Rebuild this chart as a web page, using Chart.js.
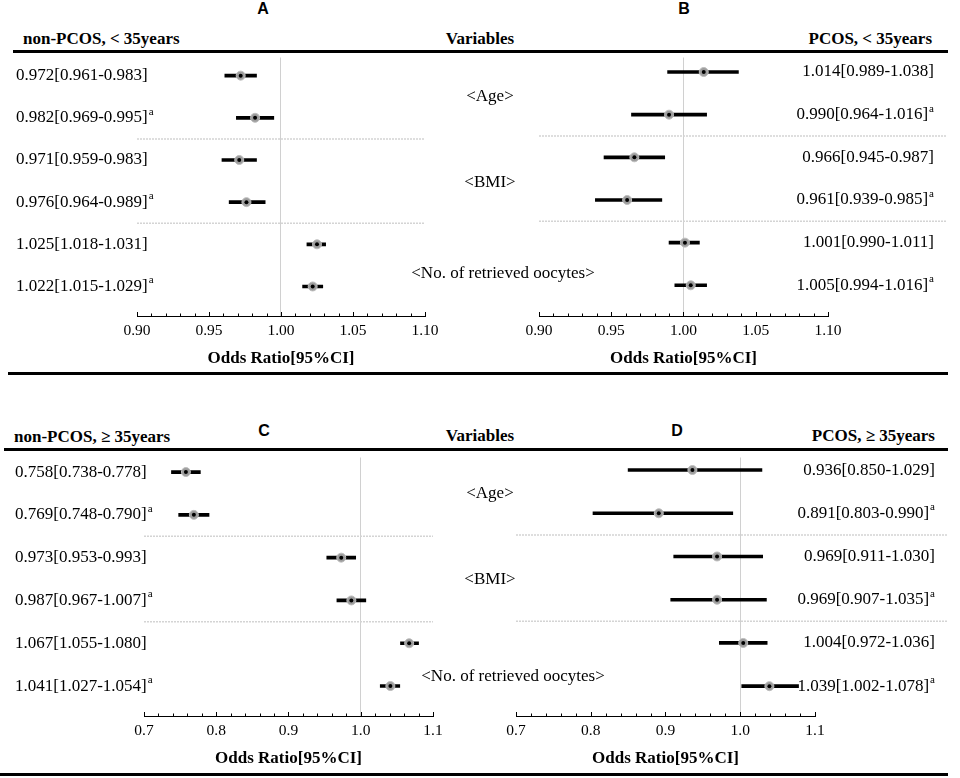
<!DOCTYPE html>
<html>
<head>
<meta charset="utf-8">
<script src="https://cdn.jsdelivr.net/npm/chart.js@4.4.1/dist/chart.umd.min.js"></script>
<style>
  body { margin: 0; background: #fff; }
  #wrap { position: relative; width: 960px; height: 778px; overflow: hidden; font-family: 'Liberation Serif', 'Times New Roman', serif; color: #000; }
  .pane { position: absolute; width: 480px; height: 320px; }
  .txt { position: absolute; font-size: 17px; white-space: nowrap; line-height: 20px; }
  .b { font-weight: bold; }
  .ctr { transform: translateX(-50%); }
  .rt { transform: translateX(-100%); }
  .letter { position: absolute; font-family: 'Liberation Sans', Arial, sans-serif; font-weight: bold; font-size: 16px; transform: translateX(-50%); line-height: 20px; }
  .rule { position: absolute; height: 3px; background: #000; }
</style>
</head>
<body>
<div id="wrap">
  <div class="letter" style="left:263px; top:-1px;">A</div>
  <div class="letter" style="left:684px; top:-1px;">B</div>
  <div class="txt b" style="left:23px; top:29px;">non-PCOS, &lt; 35years</div>
  <div class="txt b ctr" style="left:480px; top:29px;">Variables</div>
  <div class="txt b rt" style="left:932px; top:29px;">PCOS, &lt; 35years</div>
  <div class="rule" style="left:13px; width:935px; top:50px;"></div>

  <div class="pane" style="left:0; top:52px;"><canvas id="cA"></canvas></div>
  <div class="pane" style="left:480px; top:52px;"><canvas id="cB"></canvas></div>

  <div class="txt ctr" style="left:490px; top:86px;">&lt;Age&gt;</div>
  <div class="txt ctr" style="left:490px; top:172px;">&lt;BMI&gt;</div>
  <div class="txt ctr" style="left:503px; top:263px;">&lt;No. of retrieved oocytes&gt;</div>
  <div class="rule" style="left:8px; width:940px; top:372px;"></div>

  <div class="letter" style="left:264px; top:421px;">C</div>
  <div class="letter" style="left:677px; top:421px;">D</div>
  <div class="txt b" style="left:14px; top:427px;">non-PCOS, &ge; 35years</div>
  <div class="txt b ctr" style="left:480px; top:426px;">Variables</div>
  <div class="txt b rt" style="left:935px; top:426px;">PCOS, &ge; 35years</div>
  <div class="rule" style="left:4px; width:944px; top:448px;"></div>

  <div class="pane" style="left:0; top:452px;"><canvas id="cC"></canvas></div>
  <div class="pane" style="left:480px; top:452px;"><canvas id="cD"></canvas></div>

  <div class="txt ctr" style="left:490px; top:483px;">&lt;Age&gt;</div>
  <div class="txt ctr" style="left:490px; top:569px;">&lt;BMI&gt;</div>
  <div class="txt ctr" style="left:513px; top:666px;">&lt;No. of retrieved oocytes&gt;</div>
  <div class="rule" style="left:0; width:948px; top:773px;"></div>
</div>
<script>
// odds ratios with 95% CI, rows: Age, Age(adj), BMI, BMI(adj), oocytes, oocytes(adj)
const adjusted = [false, true, false, true, false, true];

const orA = [0.972, 0.982, 0.971, 0.976, 1.025, 1.022];
const loA = [0.961, 0.969, 0.959, 0.964, 1.018, 1.015];
const hiA = [0.983, 0.995, 0.983, 0.989, 1.031, 1.029];

const orB = [1.014, 0.990, 0.966, 0.961, 1.001, 1.005];
const loB = [0.989, 0.964, 0.945, 0.939, 0.990, 0.994];
const hiB = [1.038, 1.016, 0.987, 0.985, 1.011, 1.016];

const orC = [0.758, 0.769, 0.973, 0.987, 1.067, 1.041];
const loC = [0.738, 0.748, 0.953, 0.967, 1.055, 1.027];
const hiC = [0.778, 0.790, 0.993, 1.007, 1.080, 1.054];

const orD = [0.936, 0.891, 0.969, 0.969, 1.004, 1.039];
const loD = [0.850, 0.803, 0.911, 0.907, 0.972, 1.002];
const hiD = [1.029, 0.990, 1.030, 1.035, 1.036, 1.078];

const ticksAB = [0.90, 0.95, 1.00, 1.05, 1.10];
const ticksCD = [0.7, 0.8, 0.9, 1.0, 1.1];

const SERIF = "'Liberation Serif', 'Times New Roman', serif";
Chart.defaults.font.family = SERIF;
Chart.defaults.font.size = 15.5;
Chart.defaults.color = '#000';

// small upward tick marks on the x axis
const axisTicks = {
  id: 'axisTicks',
  afterDraw(chart, args, opts) {
    const x = chart.scales.x, y0 = chart.chartArea.bottom, c = chart.ctx;
    const n = Math.round((x.max - x.min) / opts.step);
    c.save();
    c.strokeStyle = '#000';
    c.lineWidth = 1;
    for (let i = 0; i <= n; i++) {
      const v = x.min + i * opts.step;
      const px = Math.round(x.getPixelForValue(v)) + 0.5;
      const major = i % opts.every === 0;
      c.beginPath();
      c.moveTo(px, y0);
      c.lineTo(px, y0 - (major ? 4 : 2.5));
      c.stroke();
    }
    c.restore();
  }
};

// grey separators between variable groups
const separators = {
  id: 'separators',
  beforeDatasetsDraw(chart, args, opts) {
    const y = chart.scales.y, c = chart.ctx;
    c.save();
    c.strokeStyle = '#d4d4d4';
    c.lineWidth = 1.5;
    c.setLineDash([2, 1]);
    [1.5, 3.5].forEach(v => {
      const py = y.getPixelForValue(v);
      c.beginPath();
      c.moveTo(opts.from === 'area' ? chart.chartArea.left : opts.from, py);
      c.lineTo(opts.to === 'area' ? chart.chartArea.right : opts.to, py);
      c.stroke();
    });
    c.restore();
  }
};

// OR[CI] text beside each row
const rowLabels = {
  id: 'rowLabels',
  afterDraw(chart, args, opts) {
    const y = chart.scales.y, c = chart.ctx;
    c.save();
    c.fillStyle = '#000';
    c.textBaseline = 'middle';
    c.textAlign = 'left';
    opts.or.forEach((v, i) => {
      const main = v.toFixed(3) + '[' + opts.lo[i].toFixed(3) + '-' + opts.hi[i].toFixed(3) + ']';
      const py = y.getPixelForValue(i);
      c.font = '17px ' + SERIF;
      const w = c.measureText(main).width;
      c.font = '11px ' + SERIF;
      const ws = adjusted[i] ? c.measureText('a').width + 1 : 0;
      const x0 = opts.side === 'left' ? opts.x : opts.x - w - ws;
      c.font = '17px ' + SERIF;
      c.fillText(main, x0, py);
      if (adjusted[i]) {
        c.font = '11px ' + SERIF;
        c.fillText('a', x0 + w + 1, py - 6);
      }
    });
    c.restore();
  }
};

function forest(id, or, lo, hi, cfg) {
  const pts = or.map((v, i) => ({ x: v, y: i }));
  new Chart(document.getElementById(id), {
    type: 'bar',
    data: {
      datasets: [
        { type: 'scatter', data: pts, pointRadius: 2, pointBackgroundColor: '#000', pointBorderWidth: 0, order: 0 },
        { type: 'scatter', data: pts, pointRadius: 4.5, pointBackgroundColor: '#9d9d9d', pointBorderColor: '#bdbdbd', pointBorderWidth: 1, order: 1 },
        { type: 'bar', data: lo.map((v, i) => ({ x: [v, hi[i]], y: i })), backgroundColor: '#000', barThickness: 3, borderSkipped: false, order: 2 }
      ]
    },
    options: {
      indexAxis: 'y',
      responsive: true,
      maintainAspectRatio: false,
      animation: false,
      layout: { padding: { left: cfg.left, right: cfg.right, top: 0, bottom: 3 } },
      scales: {
        x: {
          type: 'linear',
          min: cfg.ticks[0], max: cfg.ticks[cfg.ticks.length - 1],
          afterBuildTicks: s => { s.ticks = cfg.ticks.map(v => ({ value: v })); },
          ticks: { padding: 6, callback: v => v.toFixed(cfg.digits), font: { size: 15.5 } },
          grid: {
            drawTicks: false,
            lineWidth: 1,
            color: c => (c.tick && Math.abs(c.tick.value - 1) < 1e-9) ? '#d0d0d0' : 'rgba(0,0,0,0)'
          },
          border: { display: true, color: '#000', width: 1 },
          title: { display: true, text: 'Odds Ratio[95%CI]', font: { size: 17, weight: 'bold' }, padding: { top: 2, bottom: 0 } }
        },
        y: { type: 'linear', reverse: true, offset: false, min: cfg.yMin, max: cfg.yMax, display: false }
      },
      plugins: {
        legend: { display: false },
        tooltip: { enabled: false },
        axisTicks: { step: cfg.step, every: cfg.every },
        separators: { from: cfg.sepFrom, to: cfg.sepTo },
        rowLabels: { or: or, lo: lo, hi: hi, side: cfg.side, x: cfg.labelX }
      }
    },
    plugins: [axisTicks, separators, rowLabels]
  });
}

forest('cA', orA, loA, hiA, { left: 137, right: 55, yMin: -0.43, yMax: 5.70, ticks: ticksAB, digits: 2, step: 0.01, every: 5, sepFrom: 'area', sepTo: 'area', side: 'left', labelX: 16 });
forest('cB', orB, loB, hiB, { left: 59, right: 132, yMin: -0.34, yMax: 5.72, ticks: ticksAB, digits: 2, step: 0.01, every: 5, sepFrom: 'area', sepTo: 467, side: 'right', labelX: 454 });
forest('cC', orC, loC, hiC, { left: 144, right: 47, yMin: -0.34, yMax: 5.70, ticks: ticksCD, digits: 1, step: 0.02, every: 5, sepFrom: 'area', sepTo: 'area', side: 'left', labelX: 15 });
forest('cD', orD, loD, hiD, { left: 36, right: 145, yMin: -0.29, yMax: 5.69, ticks: ticksCD, digits: 1, step: 0.02, every: 5, sepFrom: 'area', sepTo: 468, side: 'right', labelX: 455 });
</script>
</body>
</html>
